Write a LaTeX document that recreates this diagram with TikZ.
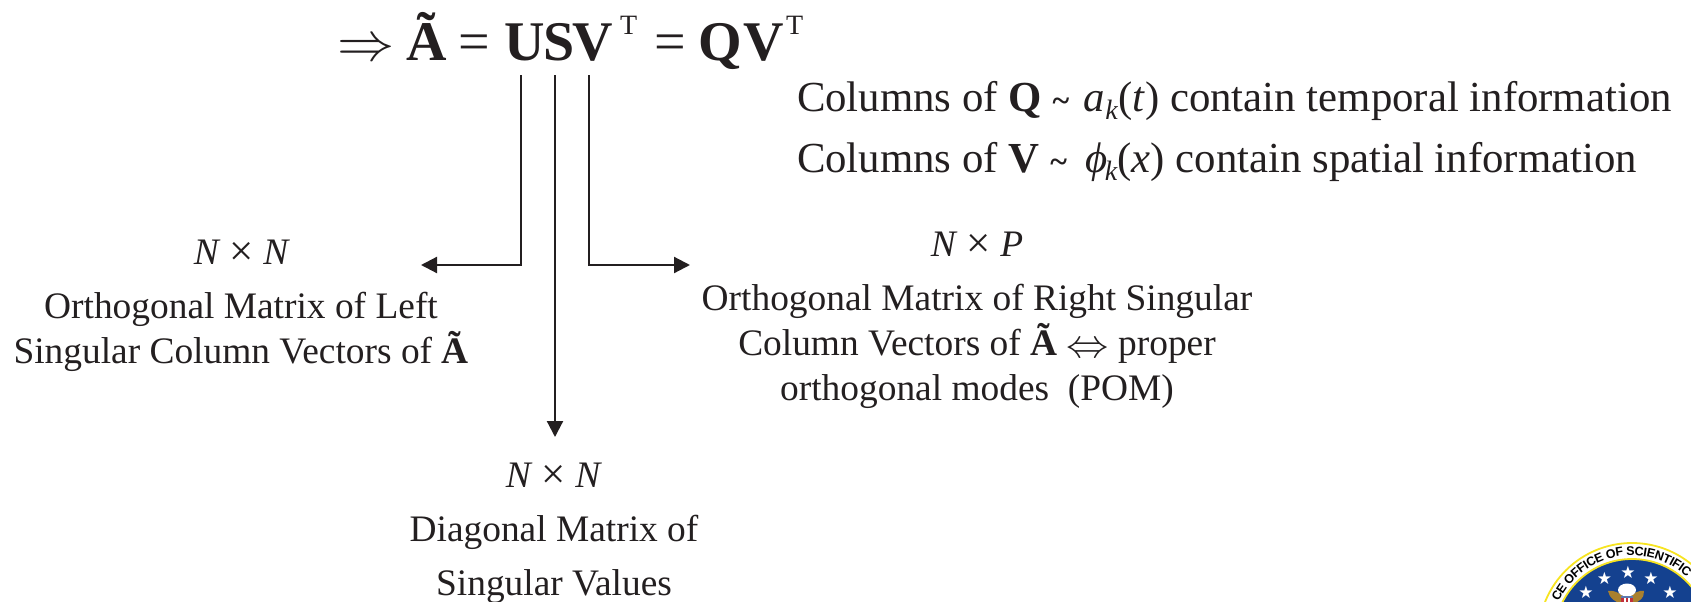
\documentclass[tikz,border=0pt]{standalone}
\usepackage{fontspec}
\usepackage{graphicx}
\setmainfont{Liberation Serif}
\setsansfont{Liberation Sans}
\newfontfamily\symfont{DejaVu Sans}
\usetikzlibrary{arrows.meta,calc}
\newcommand{\fs}[1]{\fontsize{#1}{#1}\selectfont}
\newcommand{\tms}{\raisebox{-1pt}{\scalebox{1.15}{\char"D7}}}
\newcommand{\biarrow}{\raisebox{-2pt}{\scalebox{1.7}[1.6]{$\Leftrightarrow$}}}
\begin{document}
\begin{tikzpicture}[x=1pt,y=-1pt,
  every node/.style={inner sep=0pt,outer sep=0pt,text=txt},
  big/.style={font=\fs{42.8},anchor=base west},
  eqn/.style={font=\fs{56},anchor=base west},
  supt/.style={font=\fs{28},anchor=base west},
  lab/.style={font=\fs{37.4},anchor=base,align=center},
  conn/.style={draw=txt,line width=2.2pt,-{Triangle[length=16pt,width=16pt]}}]
\definecolor{txt}{HTML}{231F20}
\definecolor{sealblue}{HTML}{14418F}
\definecolor{sealyellow}{HTML}{F7E421}
\definecolor{sealgold}{HTML}{A9802F}
\definecolor{sealred}{HTML}{C2303A}
\useasboundingbox (0,0) rectangle (1691,602);
% seal
\coordinate (sc) at (1632,636.6);
\begin{scope}
\clip (0,0) rectangle (1691,602);
\fill[white,draw=sealyellow,line width=1.8pt] (sc) circle (93.6);
\fill[sealblue,draw=sealyellow,line width=1.8pt] (sc) circle (77.6);
\xdef\cur{-154.5}
\foreach \t/\w [count=\i] in {C/.722,E/.667,{}/.278,O/.778,F/.611,F/.611,I/.278,C/.722,E/.667,{}/.278,O/.778,F/.611,{}/.278,S/.667,C/.722,I/.278,E/.667,N/.722,T/.611,I/.278,F/.611,I/.278,C/.722}{
  \pgfmathsetmacro{\ang}{\cur+\w*4.17}
  \pgfmathsetmacro{\nxt}{\cur+\w*8.34}
  \pgfmathsetmacro{\rot}{-\ang-90}
  \node[font=\bfseries\sffamily\fs{12.5},rotate=\rot,text=black,anchor=center] (sealch\i) at ($(sc)+(\ang:85.5)$) {\t};
  \global\let\cur\nxt
}
\foreach \p [count=\i] in {{1586,592},{1604.5,578},{1628,572.5},{1651,578},{1670,592}}{
  \node[font=\symfont\fs{17},text=white] (sealstar\i) at (\p) {\char"2605};
}
\fill[sealgold] (1608,591) .. controls (1612,590) and (1620,592) .. (1627,600) .. controls (1634,592) and (1640,590) .. (1644,591) .. controls (1645,598) and (1638,603) .. (1627,606) .. controls (1616,603) and (1609,598) .. (1608,591) -- cycle;
\fill[white] (1627,590) ellipse (9 and 6.5);
\fill[sealred] (1621,597) rectangle (1633,603);
\fill[white] (1623.5,597) rectangle (1625.5,603);
\fill[white] (1628,597) rectangle (1630,603);
\fill[sealblue!70!white] (1621,595.5) rectangle (1633,598);
\end{scope}
% equation
\node[eqn] (arrow) at (337,61) {\scalebox{2.3}[2.2]{$\Rightarrow$}};
\node[eqn] (At) at (406,60) {\textbf{Ã}};
\node[eqn] (eq1) at (458,60) {=};
\node[eqn] (U) at (504,60) {\textbf{U}};
\node[eqn] (S) at (543,60) {\textbf{S}};
\node[eqn] (V) at (572,60) {\textbf{V}};
\node[supt] (T1) at (620,35) {T};
\node[eqn] (eq2) at (654,60) {=};
\node[eqn] (Q) at (698,60) {\textbf{Q}};
\node[eqn] (V2) at (743,60) {\textbf{V}};
\node[supt] (T2) at (786,35) {T};
% right info
\node[big] (l1) at (797,111) {Columns of \textbf{Q} {\fs{32}\bfseries\textasciitilde}\kern4pt{} \textit{a}\raisebox{-8pt}{\fs{28}\textit{k}}(\textit{t}) contain temporal information};
\node[big] (l2) at (797,172) {Columns of \textbf{V} {\fs{32}\bfseries\textasciitilde}\kern8pt{} \textit{ϕ}\raisebox{-8pt}{\kern-3pt\fs{28}\textit{k}}(\textit{x}) contain spatial information};
% labels
\node[lab] (nl) at (242,264) {\textit{N} \tms{} \textit{N}};
\node[lab] (ll1) at (241,318) {Orthogonal Matrix of Left};
\node[lab] (ll2) at (241,363) {Singular Column Vectors of \textbf{Ã}};
\node[lab] (nr) at (977,256) {\textit{N} \tms{} \textit{P}};
\node[lab] (rl1) at (977,310) {Orthogonal Matrix of Right Singular};
\node[lab] (rl2) at (977,355) {Column Vectors of \textbf{Ã} \biarrow{} proper};
\node[lab] (rl3) at (977,400) {orthogonal modes\ \ (POM)};
\node[lab] (nc) at (554,487) {\textit{N} \tms{} \textit{N}};
\node[lab] (cl1) at (554,541) {Diagonal Matrix of};
\node[lab] (cl2) at (554,595) {Singular Values};
% connectors
\coordinate (ustart) at (521,75);
\coordinate (sstart) at (555,75);
\coordinate (vstart) at (589,75);
\coordinate (lend) at (421,265);
\coordinate (rend) at (690,265);
\coordinate (cend) at (555,437);
\draw[conn] (ustart) |- (lend);
\draw[conn] (sstart) -- (cend);
\draw[conn] (vstart) |- (rend);
\end{tikzpicture}
\end{document}
